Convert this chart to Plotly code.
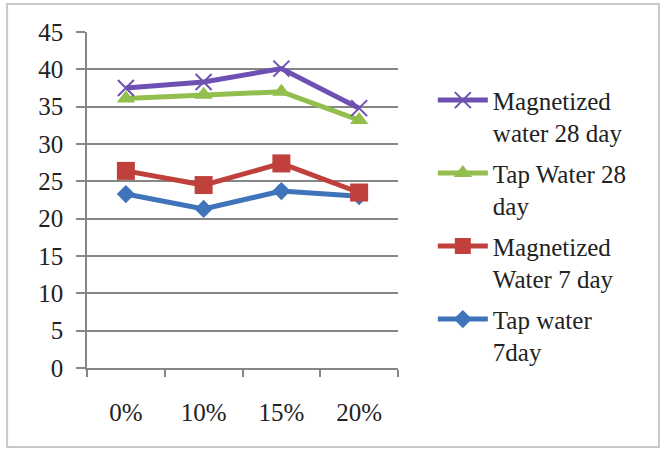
import plotly.graph_objects as go

categories = ["0%", "10%", "15%", "20%"]
tap_7 = [23.3, 21.3, 23.7, 23.0]
mag_7 = [26.4, 24.5, 27.4, 23.5]
tap_28 = [36.1, 36.6, 37.0, 33.2]
mag_28 = [37.5, 38.3, 40.1, 34.8]
y_ticks = [0, 5, 10, 15, 20, 25, 30, 35, 40, 45]

FONT = "Liberation Serif"
TXT = "#222222"

# name, values, line colour, symbol, size, marker line width, legend rank
series = [
    ("Tap water<br>7day", tap_7, "#3F74BA", "diamond", 14, 0, 4),
    ("Magnetized<br>Water 7 day", mag_7, "#C0403C", "square", 18, 0, 3),
    ("Tap Water 28<br>day", tap_28, "#92BE4E", "triangle-up", 16, 0, 2),
    ("Magnetized<br>water 28 day", mag_28, "#6E50B2", "x-thin-open", 16, 2, 1),
]

fig = go.Figure()
for i, (name, vals, color, sym, size, mlw, rank) in enumerate(series):
    marker = dict(symbol=sym, size=size, color=color)
    if mlw:
        marker["line"] = dict(width=mlw, color="#605878")
    fig.add_trace(go.Scatter(
        x=categories, y=vals, name=name, mode="lines+markers",
        line=dict(color=color, width=5), marker=marker,
        legendrank=rank, legendgroup=f"g{i}",
    ))

fig.update_layout(
    width=663, height=451,
    margin=dict(l=87, r=265, t=32, b=83),
    paper_bgcolor="white", plot_bgcolor="white",
    font=dict(family=FONT, size=25, color=TXT),
    showlegend=True,
    legend=dict(
        x=1.112, y=0.865, xanchor="left", yanchor="top",
        traceorder="grouped", valign="top", tracegroupgap=5,
        font=dict(family=FONT, size=25, color=TXT),
        itemwidth=50, bgcolor="rgba(0,0,0,0)",
    ),
    xaxis=dict(
        type="category", range=[-0.5, 3.5],
        showline=True, linecolor="#868686", linewidth=1.5,
        ticks="outside", ticklen=7, tickcolor="#868686", tickwidth=1.5,
        tickson="boundaries", showgrid=False,
        ticklabelstandoff=21,
        tickfont=dict(family=FONT, size=25, color=TXT),
    ),
    yaxis=dict(
        range=[0, 45], tickvals=y_ticks,
        showline=True, linecolor="#868686", linewidth=1.5,
        ticks="outside", ticklen=9, tickcolor="#868686", tickwidth=1.5,
        showgrid=True, gridcolor="#868686", gridwidth=1.5,
        zeroline=False, ticklabelstandoff=8,
        tickfont=dict(family=FONT, size=25, color=TXT),
    ),
    shapes=[dict(
        type="rect", xref="paper", yref="paper",
        x0=-0.257, x1=1.839, y0=-0.235, y1=1.083,
        line=dict(color="#C8C8C8", width=2), layer="below",
    )],
)

# remove the page's default 8px body margin so the figure sits at the window origin
fig.write_html("out.html", config={"displayModeBar": False},
               post_script="document.body.style.margin='0';")
